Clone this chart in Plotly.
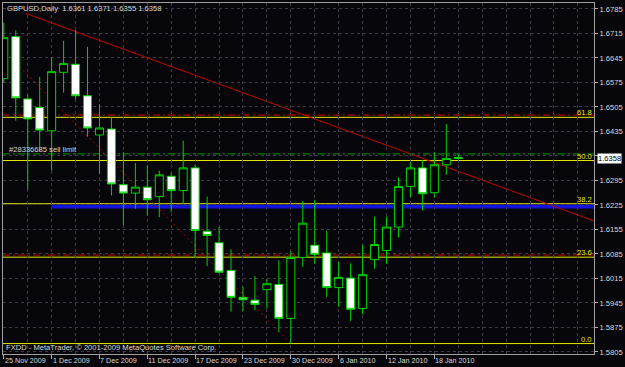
import plotly.graph_objects as go

# ---------------- data ----------------
dates = ["25 Nov 2009", "26 Nov 2009", "27 Nov 2009", "30 Nov 2009",
         "1 Dec 2009", "2 Dec 2009", "3 Dec 2009", "4 Dec 2009",
         "7 Dec 2009", "8 Dec 2009", "9 Dec 2009", "10 Dec 2009",
         "11 Dec 2009", "14 Dec 2009", "15 Dec 2009", "16 Dec 2009",
         "17 Dec 2009", "18 Dec 2009", "21 Dec 2009", "22 Dec 2009",
         "23 Dec 2009", "24 Dec 2009", "28 Dec 2009", "29 Dec 2009",
         "30 Dec 2009", "31 Dec 2009", "4 Jan 2010", "5 Jan 2010",
         "6 Jan 2010", "7 Jan 2010", "8 Jan 2010", "11 Jan 2010",
         "12 Jan 2010", "13 Jan 2010", "14 Jan 2010", "15 Jan 2010",
         "18 Jan 2010", "19 Jan 2010", "20 Jan 2010"]

opens = [1.6586, 1.6706, 1.6528, 1.6504, 1.6437, 1.6604, 1.6627, 1.6537,
         1.6425, 1.6442, 1.6283, 1.6259, 1.6276, 1.6249, 1.6307, 1.6266,
         1.6331, 1.6150, 1.6117, 1.6038, 1.5961, 1.5953, 1.5983, 1.5998,
         1.5901, 1.6075, 1.6110, 1.6088, 1.5989, 1.6016, 1.5929, 1.6069,
         1.6095, 1.6162, 1.6278, 1.6331, 1.6260, 1.6340, 1.6361]
highs = [1.6746, 1.6724, 1.6540, 1.6591, 1.6648, 1.6694, 1.6724, 1.6677,
         1.6513, 1.6475, 1.6376, 1.6345, 1.6338, 1.6323, 1.6317, 1.6409,
         1.6340, 1.6249, 1.6162, 1.6098, 1.5991, 1.6022, 1.6013, 1.6067,
         1.6093, 1.6236, 1.6240, 1.6152, 1.6062, 1.6058, 1.6110, 1.6192,
         1.6192, 1.6304, 1.6347, 1.6354, 1.6376, 1.6456, 1.6371]
lows = [1.6575, 1.6466, 1.6269, 1.6380, 1.6323, 1.6546, 1.6528, 1.6420,
        1.6314, 1.6252, 1.6167, 1.6214, 1.6195, 1.6190, 1.6205, 1.6228,
        1.6076, 1.6050, 1.6029, 1.5920, 1.5921, 1.5924, 1.5929, 1.5862,
        1.5829, 1.6048, 1.6057, 1.5962, 1.5934, 1.5894, 1.5913, 1.6043,
        1.6057, 1.6132, 1.6247, 1.6209, 1.6247, 1.6311, 1.6355]
closes = [1.6703, 1.6531, 1.6471, 1.6439, 1.6606, 1.6629, 1.6537, 1.6445,
          1.6445, 1.6285, 1.6259, 1.6276, 1.6240, 1.6311, 1.6266, 1.6331,
          1.6152, 1.6138, 1.6033, 1.5961, 1.5954, 1.5941, 1.6000, 1.5901,
          1.6075, 1.6173, 1.6084, 1.5989, 1.6018, 1.5927, 1.6026, 1.6112,
          1.6162, 1.6278, 1.6331, 1.6257, 1.6340, 1.6358, 1.6358]

date_ticks = ["25 Nov 2009", "1 Dec 2009", "7 Dec 2009", "11 Dec 2009",
              "17 Dec 2009", "23 Dec 2009", "30 Dec 2009", "6 Jan 2010",
              "12 Jan 2010", "18 Jan 2010"]
price_ticks = [1.5805, 1.5875, 1.5945, 1.6015, 1.6085, 1.6155, 1.6225,
               1.6295, 1.6365, 1.6435, 1.6505, 1.6575, 1.6645, 1.6715, 1.6785]
hidden_price_ticks = [1.6365]

# chart objects
fib_low_date, fib_low = "30 Dec 2009", 1.5829
fib_high_offset, fib_high = -6, 1.6875
fib_levels = [0.0, 23.6, 38.2, 50.0, 61.8]
trend_pts_x = [1.85, 36.0]
trend_pts_y = [1.6772, 1.6346]
blue_line_date, blue_line_price = "1 Dec 2009", 1.6221
sell_limit_price = 1.6371
sl_price, tp_price = 1.6482, 1.6082
last_price = closes[-1]

title_text = "GBPUSD,Daily  1.6361 1.6371 1.6355 1.6358"
order_text = "#28336685 sell limit"
footer_text = "FXDD - MetaTrader, © 2001-2009 MetaQuotes Software Corp."

# ---------------- styling ----------------
BG = "#07070b"
FG = "#d8d8d8"
GRID = "#3a3a48"
CANDLE = "#00d200"
YELLOW = "#e8e800"
FONT = "Liberation Sans, Arial, sans-serif"
FS = 7.6
XMIN, XMAX = -0.067, 49.35
YMIN, YMAX = 1.57992, 1.68021

idx = list(range(len(dates)))
fig = go.Figure()
fig.add_trace(go.Candlestick(
    x=idx, open=opens, high=highs, low=lows, close=closes,
    increasing=dict(line=dict(color=CANDLE, width=1), fillcolor="#000000"),
    decreasing=dict(line=dict(color=CANDLE, width=1), fillcolor="#ffffff"),
    whiskerwidth=0, showlegend=False, hoverinfo="skip"))

shapes = []
def hline(y, color, dash="solid", width=1, x0=0, x1=1, xref="paper"):
    shapes.append(dict(type="line", xref=xref, yref="y", x0=x0, x1=x1,
                       y0=y, y1=y, layer="below",
                       line=dict(color=color, width=width, dash=dash)))

# SL / TP and pending order lines
hline(sl_price, "#d00000", "7px,3px,2px,3px")
hline(tp_price, "#d00000", "7px,3px,2px,3px")
hline(sell_limit_price, "#00a000", "7px,3px,2px,3px")
# blue horizontal trend line
hline(blue_line_price, "#1414d8", "solid", 4,
      x0=dates.index(blue_line_date), x1=XMAX, xref="x")
# fibonacci levels
fib_vals = [fib_low + p / 100 * (fib_high - fib_low) for p in fib_levels]
for v in fib_vals:
    hline(v, YELLOW, "solid", 1)
# fibonacci diagonal
fib_low_x = dates.index(fib_low_date)
shapes.append(dict(type="line", xref="x", yref="y",
                   x0=fib_high_offset, y0=fib_high, x1=fib_low_x, y1=fib_low,
                   layer="below", line=dict(color="#b00000", width=1, dash="2px,3px")))
# red trend line (ray)
slope = (trend_pts_y[1] - trend_pts_y[0]) / (trend_pts_x[1] - trend_pts_x[0])
shapes.append(dict(type="line", xref="x", yref="y",
                   x0=trend_pts_x[0], y0=trend_pts_y[0],
                   x1=XMAX, y1=trend_pts_y[0] + slope * (XMAX - trend_pts_x[0]),
                   layer="below", line=dict(color="#c80000", width=1)))

annotations = []
small = dict(family=FONT, size=FS, color=FG)
annotations.append(dict(text=title_text, xref="paper", yref="paper", x=0.004, y=0.983,
                        xanchor="left", yanchor="middle", showarrow=False, font=small))
annotations.append(dict(text=order_text, xref="paper", yref="paper", x=0.006, y=0.582,
                        xanchor="left", yanchor="middle", showarrow=False, font=small))
annotations.append(dict(text=footer_text, xref="paper", yref="paper", x=0.002, y=0.018,
                        xanchor="left", yanchor="middle", showarrow=False, font=small))
for p, v in zip(fib_levels, fib_vals):
    annotations.append(dict(text=f"{p:.1f}", xref="paper", yref="y", x=0.999, y=v,
                            xanchor="right", yanchor="bottom", showarrow=False,
                            font=dict(family=FONT, size=FS, color=YELLOW),
                            borderpad=0, yshift=-1))
for d in date_ticks:
    annotations.append(dict(text=d, xref="x", yref="paper", x=dates.index(d), y=0,
                            xanchor="left", yanchor="top", showarrow=False,
                            font=dict(family=FONT, size=7.2, color=FG),
                            borderpad=0, xshift=0, yshift=-1))
annotations.append(dict(text=f"{last_price:.4f}", xref="paper", yref="y", x=1.005,
                        y=last_price, xanchor="left", yanchor="middle", showarrow=False,
                        bgcolor="#ffffff", font=dict(family=FONT, size=FS, color="#000000"),
                        borderpad=0))

fig.update_layout(
    width=625, height=367,
    margin=dict(l=2, r=29, t=2, b=13),
    paper_bgcolor=BG, plot_bgcolor=BG,
    shapes=shapes, annotations=annotations,
    showlegend=False,
    xaxis=dict(range=[XMIN, XMAX], rangeslider=dict(visible=False),
               tickvals=[dates.index(d) for d in date_ticks], showticklabels=False,
               ticks="outside", ticklen=4, tickcolor="#b0b0b0",
               showgrid=True, gridcolor=GRID, griddash="dot", gridwidth=1,
               minor=dict(tickmode="linear", tick0=0, dtick=2, showgrid=True,
                          gridcolor=GRID, griddash="dot", gridwidth=1),
               showline=True, linecolor="#a0a0a0", linewidth=1, mirror=True,
               zeroline=False, fixedrange=True),
    yaxis=dict(range=[YMIN, YMAX], side="right",
               tickvals=price_ticks,
               ticktext=["" if t in hidden_price_ticks else f"{t:.4f}" for t in price_ticks],
               ticks="outside", ticklen=3, tickcolor="#b0b0b0",
               tickfont=small,
               showgrid=True, gridcolor=GRID, griddash="dot", gridwidth=1,
               showline=True, linecolor="#a0a0a0", linewidth=1, mirror=True,
               zeroline=False, fixedrange=True),
    boxgap=0.33, boxgroupgap=0,
)

fig.write_html("out.html")
